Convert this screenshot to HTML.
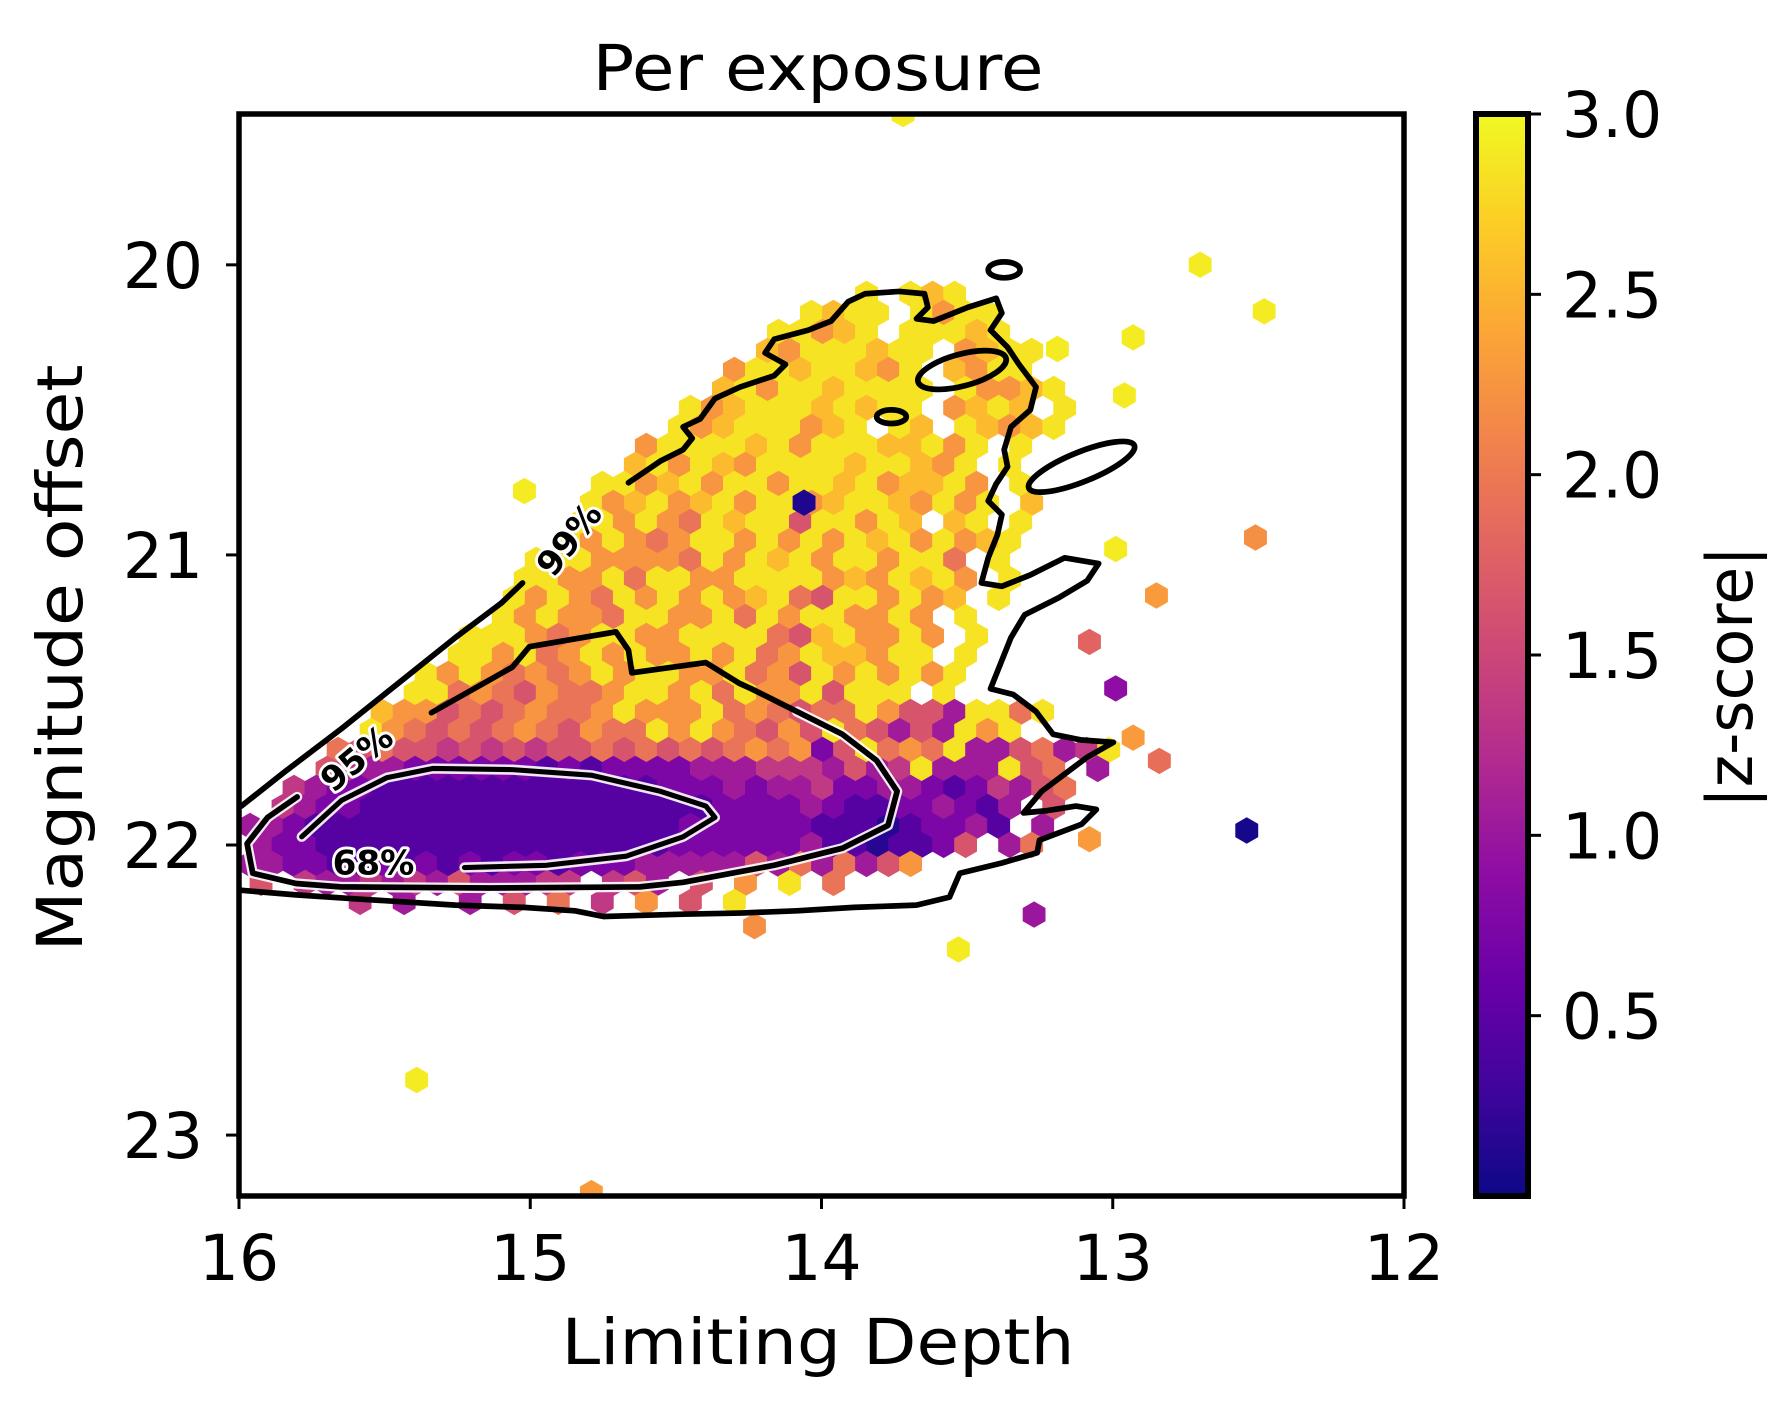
<!DOCTYPE html>
<html><head><meta charset="utf-8"><style>
html,body{margin:0;padding:0;background:#fff;}
svg{display:block;font-family:"DejaVu Sans","Liberation Sans",sans-serif;}
</style></head>
<body>
<svg id="chart" width="1785" height="1418" viewBox="0 0 1785 1418" xmlns="http://www.w3.org/2000/svg">
<defs>
<clipPath id="axclip"><rect x="239" y="114" width="1165" height="1082"/></clipPath>
<linearGradient id="cbgrad" x1="0" y1="1" x2="0" y2="0">
<stop offset="0" stop-color="#0d0887"/><stop offset="0.1" stop-color="#41049d"/><stop offset="0.2" stop-color="#6a00a8"/><stop offset="0.3" stop-color="#8f0da4"/><stop offset="0.4" stop-color="#b12a90"/><stop offset="0.5" stop-color="#cc4778"/><stop offset="0.6" stop-color="#e16462"/><stop offset="0.7" stop-color="#f2844b"/><stop offset="0.8" stop-color="#fca636"/><stop offset="0.9" stop-color="#fcce25"/><stop offset="1" stop-color="#f0f921"/>
</linearGradient>
</defs>
<text x="818" y="90" font-size="63" text-anchor="middle" textLength="451" lengthAdjust="spacingAndGlyphs">Per exposure</text>
<g id="hexes" clip-path="url(#axclip)"></g>
<g clip-path="url(#axclip)">
<g transform="scale(1.1385)" fill="none" stroke-linejoin="round" stroke-linecap="round">
<g stroke="#fff" stroke-width="9" opacity="0.9">
<path d="M265,735 L300,703 L340,683 L380,675 L450,676 L520,681 L580,695 L620,708 L628,718 L600,735 L550,752 L480,760 L408,762"/>
<path d="M261,700 L235,718 L217,741 L222,767 L260,776 L299,779 L430,780 L562,779 L600,775 L680,760 L740,745 L780,725 L788,695 L770,668 L740,645 L700,625"/>
</g>
<g stroke="#000" stroke-width="5">
<path d="M212,708 L250,678 L300,640 L350,600 L400,560 L440,530 L459,512"/>
<path d="M552,424 L580,405 L600,395 L608,385 L600,375 L615,368 L628,350 L650,340 L680,330 L690,320 L672,310 L680,298 L710,290 L730,282 L745,265 L760,258 L790,256 L812,258 L815,270 L805,280 L820,282 L850,270 L875,262 L880,275 L870,290 L885,305 L895,320 L910,340 L905,360 L888,375 L882,395 L885,410 L875,425 L868,440 L880,452 L876,470 L868,490 L862,512 L880,515 L905,505 L935,490 L965,495 L955,510 L930,525 L900,540 L888,560 L880,580 L870,605 L890,610 L910,625 L925,645 L950,650 L978,652 L955,665 L935,680 L915,695 L899,714 L920,712 L945,708 L963,711 L950,724 L913,738 L911,749 L880,758 L843,767 L834,788 L805,795 L750,797 L700,800 L650,802 L600,803 L530,805 L505,800 L460,797 L400,795 L320,790 L260,786 L212,782"/>
<ellipse cx="882" cy="237" rx="14" ry="7"/>
<ellipse cx="845" cy="325" rx="40" ry="14" transform="rotate(-15 845 325)"/>
<ellipse cx="783" cy="366" rx="13" ry="6"/>
<ellipse cx="950" cy="410" rx="50" ry="13" transform="rotate(-22 950 410)"/>
</g>
<g stroke="#000" stroke-width="5">
<path d="M261,700 L235,718 L217,741 L222,767 L260,776 L299,779 L430,780 L562,779 L600,775 L680,760 L740,745 L780,725 L788,695 L770,668 L740,645 L700,625 L660,605 L649,600 L620,582 L555,591 L552,571 L541,555 L465,568 L450,586 L379,626"/>
</g>
<g stroke="#000" stroke-width="4.5">
<path d="M265,735 L300,703 L340,683 L380,675 L450,676 L520,681 L580,695 L620,708 L628,718 L600,735 L550,752 L480,760 L408,762"/>
</g>
<g font-size="30" font-weight="bold" fill="#000" stroke="#fff" stroke-width="5" paint-order="stroke" text-anchor="middle">
<text transform="translate(508,480) rotate(-52)">99%</text>
<text transform="translate(320,674) rotate(-40)">95%</text>
<text x="328" y="768">68%</text>
</g>
</g>
</g>
<rect x="239" y="114" width="1165" height="1082" fill="none" stroke="#000" stroke-width="5.5"/>
<g id="axes"></g>
<rect x="1476" y="114" width="52" height="1082" fill="url(#cbgrad)" stroke="#000" stroke-width="6"/>
<g id="cbaxis"></g>
<text x="818" y="1364" font-size="63" text-anchor="middle" textLength="513" lengthAdjust="spacingAndGlyphs">Limiting Depth</text>
<text transform="translate(82,658) rotate(-90)" font-size="63" text-anchor="middle" textLength="587" lengthAdjust="spacingAndGlyphs">Magnitude offset</text>
<text transform="translate(1752,677) rotate(-90)" font-size="63" text-anchor="middle" textLength="262" lengthAdjust="spacingAndGlyphs">|z-score|</text>
</svg>
<script>
// Hexbin data: each row has a starting column and codes (digit d => |z| = 0.15+0.3d, space = empty)
const rowStartCol = [28,25,24,23,22,21,20,19,18,17,16,15,15,14,13,12,12,11,10,9,8,7,6,5,4,3,2,1,0,0,0,0,5];
const rowCodes = [
"9 989","9899 9799","99789 99989","87999899 7899","799899879 8799","8979989999 97789",
"97899989899 7898 9","978999789 98 98789","7999989799988979 9","8979879999899879 9",
"997897997998978897 9","9789789799789987979 8","9979769899599798 89 9",
"979767997979798979789","99977776979897997996 9","997796997799997879897 9",
"979769797978965997978 9","97977699779697997797 9","9997679977999965897797 9",
"9979679797797967988799 9","9797676797997796759797979","99676576679979697795999 9",
"8775656766797779676566975539969","976565676576697976575965353979",
"656554545455656565676725967693356349","5433222222121222233344435349333956 3",
"432211111111111112223233422332124356","4322111111111111111122223211223213 5",
"33211111111111111111222222111012231 3","322111111111111111122222231101125 36",
"3322112121212212223333353636357","5 4334343533344 453 5 7 9 6","4 3  3 5 6 4 7 5 9"];
// isolated bins: depth, magnitude offset, |z|
const outX = [12.70,12.48,12.93,12.96,13.19,15.02,12.51,12.85,12.99,13.08,12.99,12.93,12.84,13.08,12.54,13.27,13.53,14.23,15.39,14.79,13.72,14.06];
const outY = [20.00,20.16,20.25,20.45,20.29,20.78,20.94,21.14,20.98,21.30,21.46,21.63,21.71,21.98,21.95,22.24,22.36,22.28,22.81,23.20,19.48,20.82];
const outZ = [2.9,2.9,2.9,2.9,2.9,2.9,2.2,2.3,2.9,1.8,0.9,2.3,1.9,2.3,0.05,1.0,2.9,2.2,2.9,2.3,2.9,0.1];
const xTicks = [16,15,14,13,12];
const yTicks = [20,21,22,23];
const cbTicks = [0.5,1.0,1.5,2.0,2.5,3.0];
const cbTickLabels = ["0.5","1.0","1.5","2.0","2.5","3.0"];

const X0=239,X1=1404,Y0=114,Y1=1196;
const xMin=16,xMax=12,yMin=19.48,yMax=23.21,zMin=0,zMax=3.0;
function sx(v){return X0+(v-xMin)/(xMax-xMin)*(X1-X0);}
function sy(v){return Y0+(v-yMin)/(yMax-yMin)*(Y1-Y0);}
function sz(v){return Y1-(v-zMin)/(zMax-zMin)*(Y1-Y0);}
const stops=["#0d0887","#41049d","#6a00a8","#8f0da4","#b12a90","#cc4778","#e16462","#f2844b","#fca636","#fcce25","#f0f921"];
function hx(c){return [parseInt(c.slice(1,3),16),parseInt(c.slice(3,5),16),parseInt(c.slice(5,7),16)];}
function plasma(t){t=Math.max(0,Math.min(1,t));const f=t*10,i=Math.min(9,Math.floor(f)),u=f-i;const a=hx(stops[i]),b=hx(stops[i+1]);return "rgb("+a.map((v,k)=>Math.round(v+(b[k]-v)*u)).join(",")+")";}
const NS="http://www.w3.org/2000/svg";
const hexG=document.getElementById('hexes');
const dxData=0.0756, dyData=0.0655, y0Data=20.10;
const R=13.2;
function hexPath(cx,cy){let p="";for(let k=0;k<6;k++){const a=Math.PI/180*(60*k-90);p+=(k?"L":"M")+(cx+R*Math.cos(a)).toFixed(1)+","+(cy+R*Math.sin(a)).toFixed(1);}return p+"Z";}
function addHex(xd,yd,z){
  const el=document.createElementNS(NS,'path');
  el.setAttribute('d',hexPath(sx(xd),sy(yd)));
  el.setAttribute('fill',plasma(z/zMax));
  
  
  hexG.appendChild(el);
}
rowCodes.forEach((s,r)=>{
  const yd=y0Data+r*dyData;
  for(let i=0;i<s.length;i++){
    const ch=s[i]; if(ch===' ')continue;
    const c=rowStartCol[r]+i;
    const xd=16-(c+0.5+(r%2)*0.5)*dxData;
    addHex(xd,yd,0.15+0.3*parseInt(ch));
  }
});
outX.forEach((v,i)=>addHex(v,outY[i],outZ[i]));

const ax=document.getElementById('axes');
function line(g,x1,y1,x2,y2,w,name){const l=document.createElementNS(NS,'line');l.setAttribute('x1',x1);l.setAttribute('y1',y1);l.setAttribute('x2',x2);l.setAttribute('y2',y2);l.setAttribute('stroke','#000');l.setAttribute('stroke-width',w);


g.appendChild(l);}
function text(g,x,y,s,anchor,name){const t=document.createElementNS(NS,'text');t.setAttribute('x',x);t.setAttribute('y',y);t.setAttribute('font-size','63');t.setAttribute('text-anchor',anchor);t.textContent=s;


g.appendChild(t);}
xTicks.forEach(v=>{const x=sx(v);line(ax,x,Y1,x,Y1+13,3,'x-tick');text(ax,x,1280,String(v),'middle','x-tick-label');});
yTicks.forEach(v=>{const y=sy(v);line(ax,X0-13,y,X0,y,3,'y-tick');text(ax,203,y+23,String(v),'end','y-tick-label');});
const cb=document.getElementById('cbaxis');
cbTicks.forEach((v,i)=>{const y=sz(v);line(cb,1528,y,1541,y,3,'colorbar-tick');text(cb,1562,y+23,cbTickLabels[i],'start','colorbar-tick-label');});
</script>
</body></html>
